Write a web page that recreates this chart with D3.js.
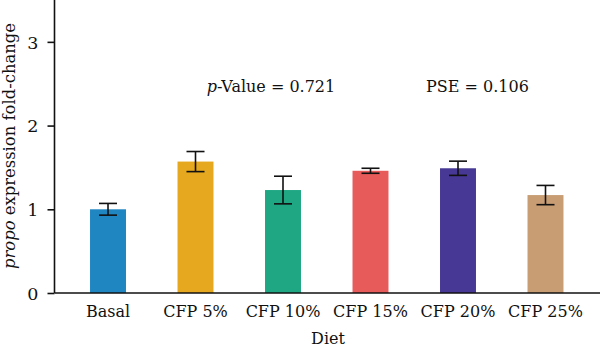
<!DOCTYPE html>
<html>
<head>
<meta charset="utf-8">
<script src="https://cdn.jsdelivr.net/npm/d3@7"></script>
<style>
  body { margin: 0; background: #fff; }
  text { font-family: "DejaVu Serif", "Liberation Serif", serif; fill: #111; }
</style>
</head>
<body>
<div class="chart"></div>
<script>
// values
var diets = ["Basal", "CFP 5%", "CFP 10%", "CFP 15%", "CFP 20%", "CFP 25%"];
var foldChange = [1.00, 1.57, 1.23, 1.46, 1.49, 1.17];
var errorSize = [0.07, 0.12, 0.165, 0.03, 0.085, 0.115];
var barColors = ["#1f86c2", "#e6a81e", "#1fa784", "#e85b5b", "#463894", "#c89d74"];
var yTicks = [0, 1, 2, 3];

var width = 600,
	height = 347,
	left = 54.5,
	bottom = 293,
	fs = "16px";

var svg = d3.select(".chart")
	.append("svg")
	.attr("width", width)
	.attr("height", height);

var x = d3.scaleBand()
	.domain(diets)
	.range([left, 599])
	.paddingInner(0.589)
	.paddingOuter(0.406);

var y = d3.scaleLinear()
	.domain([0, 3.5])
	.range([bottom, 0]);

var data = diets.map(function(d, i) {
	return {name: d, v: foldChange[i], e: errorSize[i], c: barColors[i]};
});

svg.selectAll("rect.bar")
	.data(data)
	.enter()
	.append("rect")
	.attr("class", "bar")
	.attr("x", function(d) { return x(d.name); })
	.attr("y", function(d) { return y(d.v); })
	.attr("width", x.bandwidth())
	.attr("height", function(d) { return y(0) - y(d.v); })
	.attr("fill", function(d) { return d.c; });

// error bars
var capW = 9;
var err = svg.selectAll("g.err")
	.data(data)
	.enter()
	.append("g")
	.attr("class", "err")
	.attr("stroke", "#111")
	.attr("stroke-width", 1.6);

err.append("line")
	.attr("x1", function(d) { return x(d.name) + x.bandwidth() / 2; })
	.attr("x2", function(d) { return x(d.name) + x.bandwidth() / 2; })
	.attr("y1", function(d) { return y(d.v + d.e); })
	.attr("y2", function(d) { return y(d.v - d.e); });

[1, -1].forEach(function(s) {
	err.append("line")
		.attr("x1", function(d) { return x(d.name) + x.bandwidth() / 2 - capW; })
		.attr("x2", function(d) { return x(d.name) + x.bandwidth() / 2 + capW; })
		.attr("y1", function(d) { return y(d.v + s * d.e); })
		.attr("y2", function(d) { return y(d.v + s * d.e); });
});

// axes
var yAxis = svg.append("g")
	.attr("transform", "translate(" + left + ",0)")
	.call(d3.axisLeft(y).tickValues(yTicks).tickFormat(d3.format("d")).tickSize(7).tickSizeOuter(0));

var xAxis = svg.append("g")
	.attr("transform", "translate(0," + bottom + ")")
	.call(d3.axisBottom(x).tickSize(0).tickSizeOuter(0));

[yAxis, xAxis].forEach(function(a) {
	a.select(".domain").attr("stroke", "#111").attr("stroke-width", 1.6);
	a.selectAll(".tick line").attr("stroke", "#111").attr("stroke-width", 1.6);
	a.selectAll("text").style("font-size", fs).style("font-family", "DejaVu Serif").attr("fill", "#111");
});
yAxis.selectAll("text").attr("x", -16).attr("dy", "0.36em").style("font-size", "17.5px");
xAxis.selectAll("text").attr("y", 24).attr("dy", 0);
xAxis.select(".domain").attr("d", "M" + left + ",0H" + width);
yAxis.select(".domain").attr("d", "M0," + bottom + "V0");

// axis titles
svg.append("text")
	.attr("x", 328)
	.attr("y", 344)
	.attr("text-anchor", "middle")
	.style("font-size", fs)
	.text("Diet");

var yt = svg.append("text")
	.attr("transform", "translate(15,146) rotate(-90)")
	.attr("text-anchor", "middle")
	.style("font-size", "16.4px");
yt.append("tspan").style("font-style", "italic").text("propo");
yt.append("tspan").text(" expression fold-change");

// annotations
var pv = svg.append("text")
	.attr("x", 271)
	.attr("y", 91.5)
	.attr("text-anchor", "middle")
	.style("font-size", fs);
pv.append("tspan").style("font-style", "italic").text("p");
pv.append("tspan").text("-Value = 0.721");

svg.append("text")
	.attr("x", 477.5)
	.attr("y", 91.5)
	.attr("text-anchor", "middle")
	.style("font-size", fs)
	.text("PSE = 0.106");
</script>
</body>
</html>
